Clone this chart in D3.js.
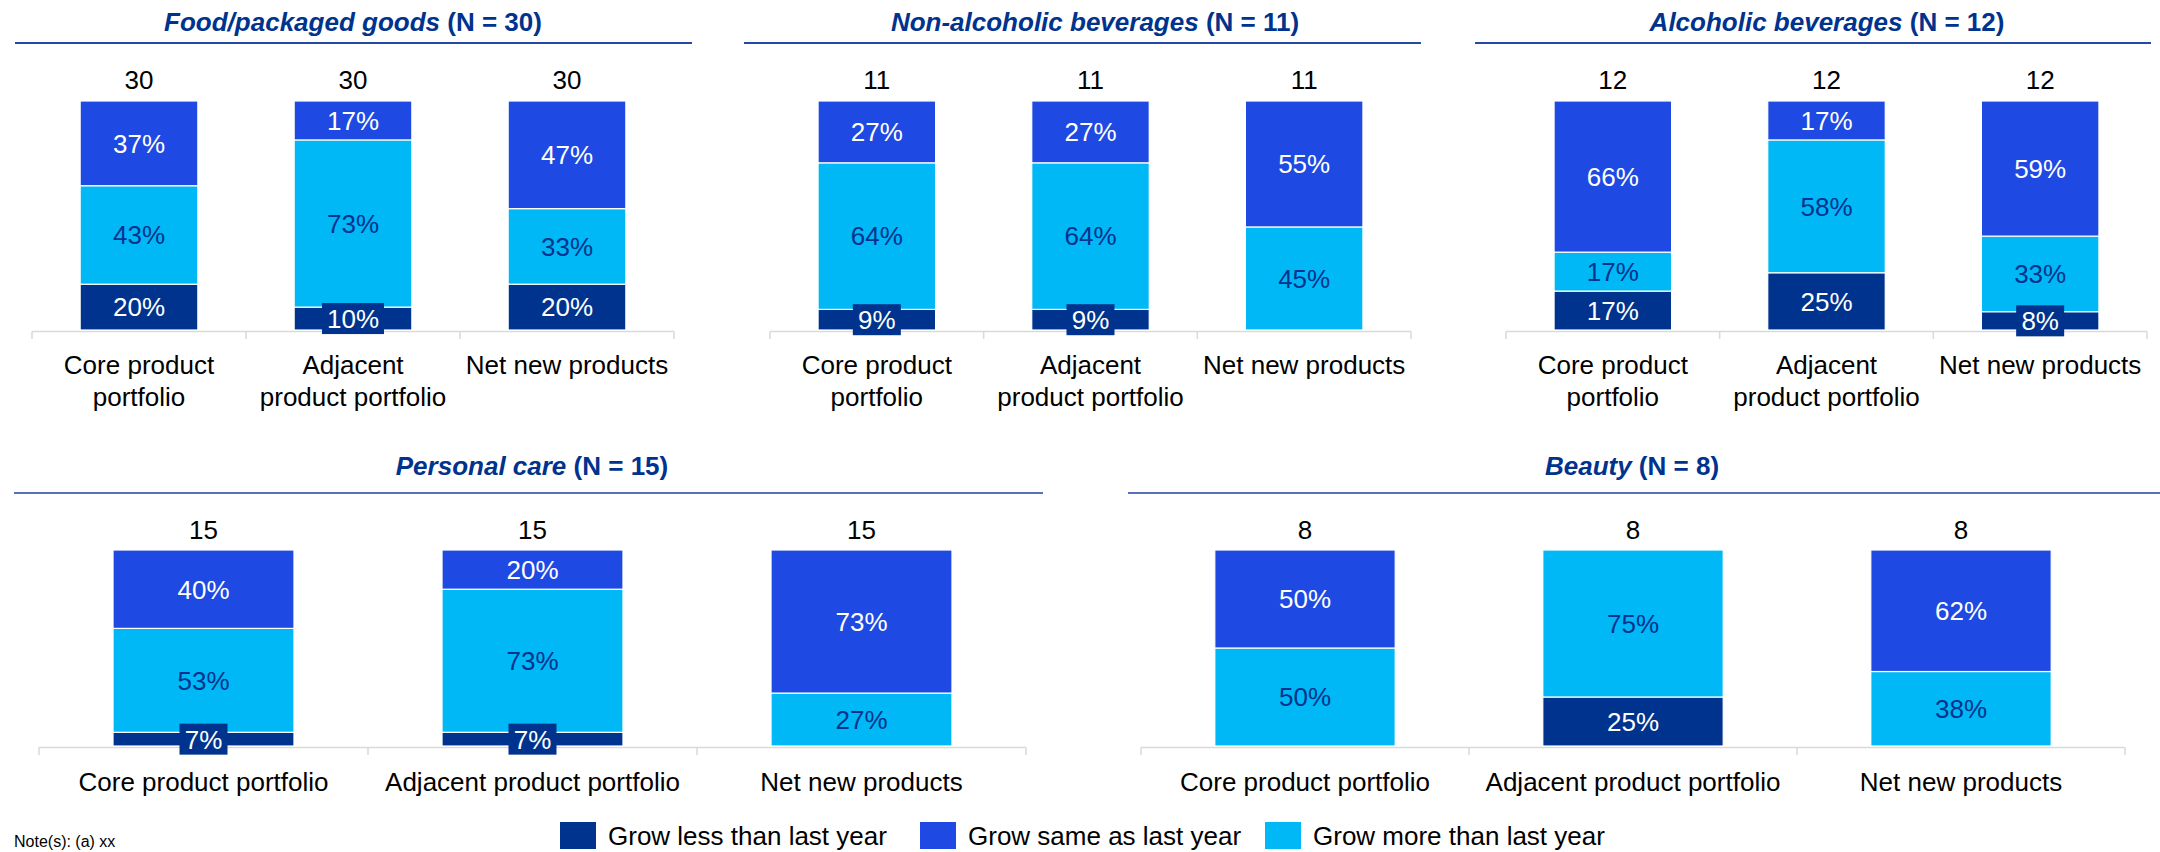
<!DOCTYPE html>
<html><head><meta charset="utf-8">
<script src="https://cdn.jsdelivr.net/npm/d3@7"></script>
<style>
html,body{margin:0;padding:0;background:#fff;}
svg text{font-family:"Liberation Sans",Arial,sans-serif;}
</style></head>
<body>
<svg id="chart" width="2160" height="852"></svg>
<script>
// ---- data ----
const panelNames = ["Food/packaged goods","Non-alcoholic beverages","Alcoholic beverages","Personal care","Beauty"];
const panelN = [30, 11, 12, 15, 8];
const categoriesTop = [["Core product","portfolio"],["Adjacent","product portfolio"],["Net new products"]];
const categoriesBottom = [["Core product portfolio"],["Adjacent product portfolio"],["Net new products"]];
const seriesNames = ["Grow less than last year","Grow same as last year","Grow more than last year"];
const growLess = [[20,10,20],[9,9,0],[17,25,8],[7,7,0],[0,25,0]];
const growMore = [[43,73,33],[64,64,45],[17,58,33],[53,73,27],[50,75,38]];
const growSame = [[37,17,47],[27,27,55],[66,17,59],[40,20,73],[50,0,62]];

// ---- styles / layout ----
const C_LESS = "#00338D", C_SAME = "#1E49E2", C_MORE = "#00B8F5";
const TITLE_C = "#00338D";
const layout = [
  {x0:32, x1:674, l0:15, l1:692, tx:353, row:0},
  {x0:770, x1:1411, l0:744, l1:1421, tx:1095, row:0},
  {x0:1506, x1:2147, l0:1475, l1:2151, tx:1827, row:0},
  {x0:39, x1:1026, l0:14, l1:1043, tx:532, row:1},
  {x0:1141, x1:2125, l0:1128, l1:2160, tx:1632, row:1}
];
const rows = [
  {titleY:31, lineY:43, lineC:"#2449a5", countY:89, top:101, bottom:330, catY:374, cats:categoriesTop},
  {titleY:475, lineY:493, lineC:"#5570bd", countY:539, top:550, bottom:746, catY:791, cats:categoriesBottom}
];
const FS = 26;

const svg = d3.select("#chart");

panelNames.forEach((name, p) => {
  const L = layout[p], R = rows[L.row];
  const g = svg.append("g");
  const cats = R.cats.map(c => c.join(" "));
  const x = d3.scaleBand().domain(cats).range([L.x0, L.x1]).padding(0);
  const y = d3.scaleLinear().domain([0, 100]).range([R.bottom, R.top]);
  const bw = x.bandwidth() * 0.55;

  // title
  const t = g.append("text").attr("x", L.tx).attr("y", R.titleY)
    .attr("text-anchor", "middle").attr("font-size", FS).attr("font-weight", "bold").attr("fill", TITLE_C);
  t.append("tspan").attr("font-style", "italic").text(name);
  t.append("tspan").text(" (N = " + panelN[p] + ")");
  g.append("line").attr("x1", L.l0).attr("x2", L.l1).attr("y1", R.lineY).attr("y2", R.lineY)
    .attr("stroke", R.lineC).attr("stroke-width", 2);

  // axis
  g.append("line").attr("x1", L.x0).attr("x2", L.x1).attr("y1", R.bottom + 1.5).attr("y2", R.bottom + 1.5)
    .attr("stroke", "#d9d9d9").attr("stroke-width", 1.5);
  for (let i = 0; i <= cats.length; i++) {
    const tx = L.x0 + i * x.step();
    g.append("line").attr("x1", tx).attr("x2", tx).attr("y1", R.bottom + 1.5).attr("y2", R.bottom + 9)
      .attr("stroke", "#d9d9d9").attr("stroke-width", 1.5);
  }

  cats.forEach((cat, i) => {
    const cx = x(cat) + x.bandwidth() / 2;
    const segs = [
      {v: growLess[p][i], c: C_LESS, tc: "#fff"},
      {v: growMore[p][i], c: C_MORE, tc: "#00338D"},
      {v: growSame[p][i], c: C_SAME, tc: "#fff"}
    ];
    let acc = 0;
    segs.forEach(s => { s.y0 = acc; acc += s.v; s.y1 = acc; });
    const visible = segs.filter(s => s.v > 0);
    g.selectAll(null).data(visible).enter().append("rect")
      .attr("x", cx - bw / 2).attr("width", bw)
      .attr("y", d => y(d.y1)).attr("height", d => y(d.y0) - y(d.y1))
      .attr("fill", d => d.c).attr("stroke", "#fff").attr("stroke-width", 1.2);
    visible.forEach(s => {
      const my = (y(s.y0) + y(s.y1)) / 2;
      const label = s.v + "%";
      if (s.v <= 10) {
        const tw = label.length === 2 ? 38 : 52;
        g.append("rect").attr("x", cx - tw / 2 - 5).attr("width", tw + 10)
          .attr("y", my - 15.5).attr("height", 31).attr("fill", C_LESS);
      }
      g.append("text").attr("x", cx).attr("y", my).attr("dy", "0.36em")
        .attr("text-anchor", "middle").attr("font-size", FS).attr("fill", s.tc).text(label);
    });
    // count
    g.append("text").attr("x", cx).attr("y", R.countY).attr("text-anchor", "middle")
      .attr("font-size", FS).attr("fill", "#000").text(panelN[p]);
    // category label
    R.cats[i].forEach((ln, k) => {
      g.append("text").attr("x", cx).attr("y", R.catY + k * 32).attr("text-anchor", "middle")
        .attr("font-size", FS).attr("fill", "#000").text(ln);
    });
  });
});

// legend
const legX = [560, 920, 1265];
const legC = [C_LESS, C_SAME, C_MORE];
const leg = svg.append("g");
seriesNames.forEach((s, i) => {
  leg.append("rect").attr("x", legX[i]).attr("y", 822).attr("width", 36).attr("height", 27).attr("fill", legC[i]);
  leg.append("text").attr("x", legX[i] + 48).attr("y", 845).attr("font-size", FS).attr("fill", "#000").text(s);
});
svg.append("text").attr("x", 14).attr("y", 847).attr("font-size", 16).attr("fill", "#000").text("Note(s): (a) xx");
</script>
</body></html>
